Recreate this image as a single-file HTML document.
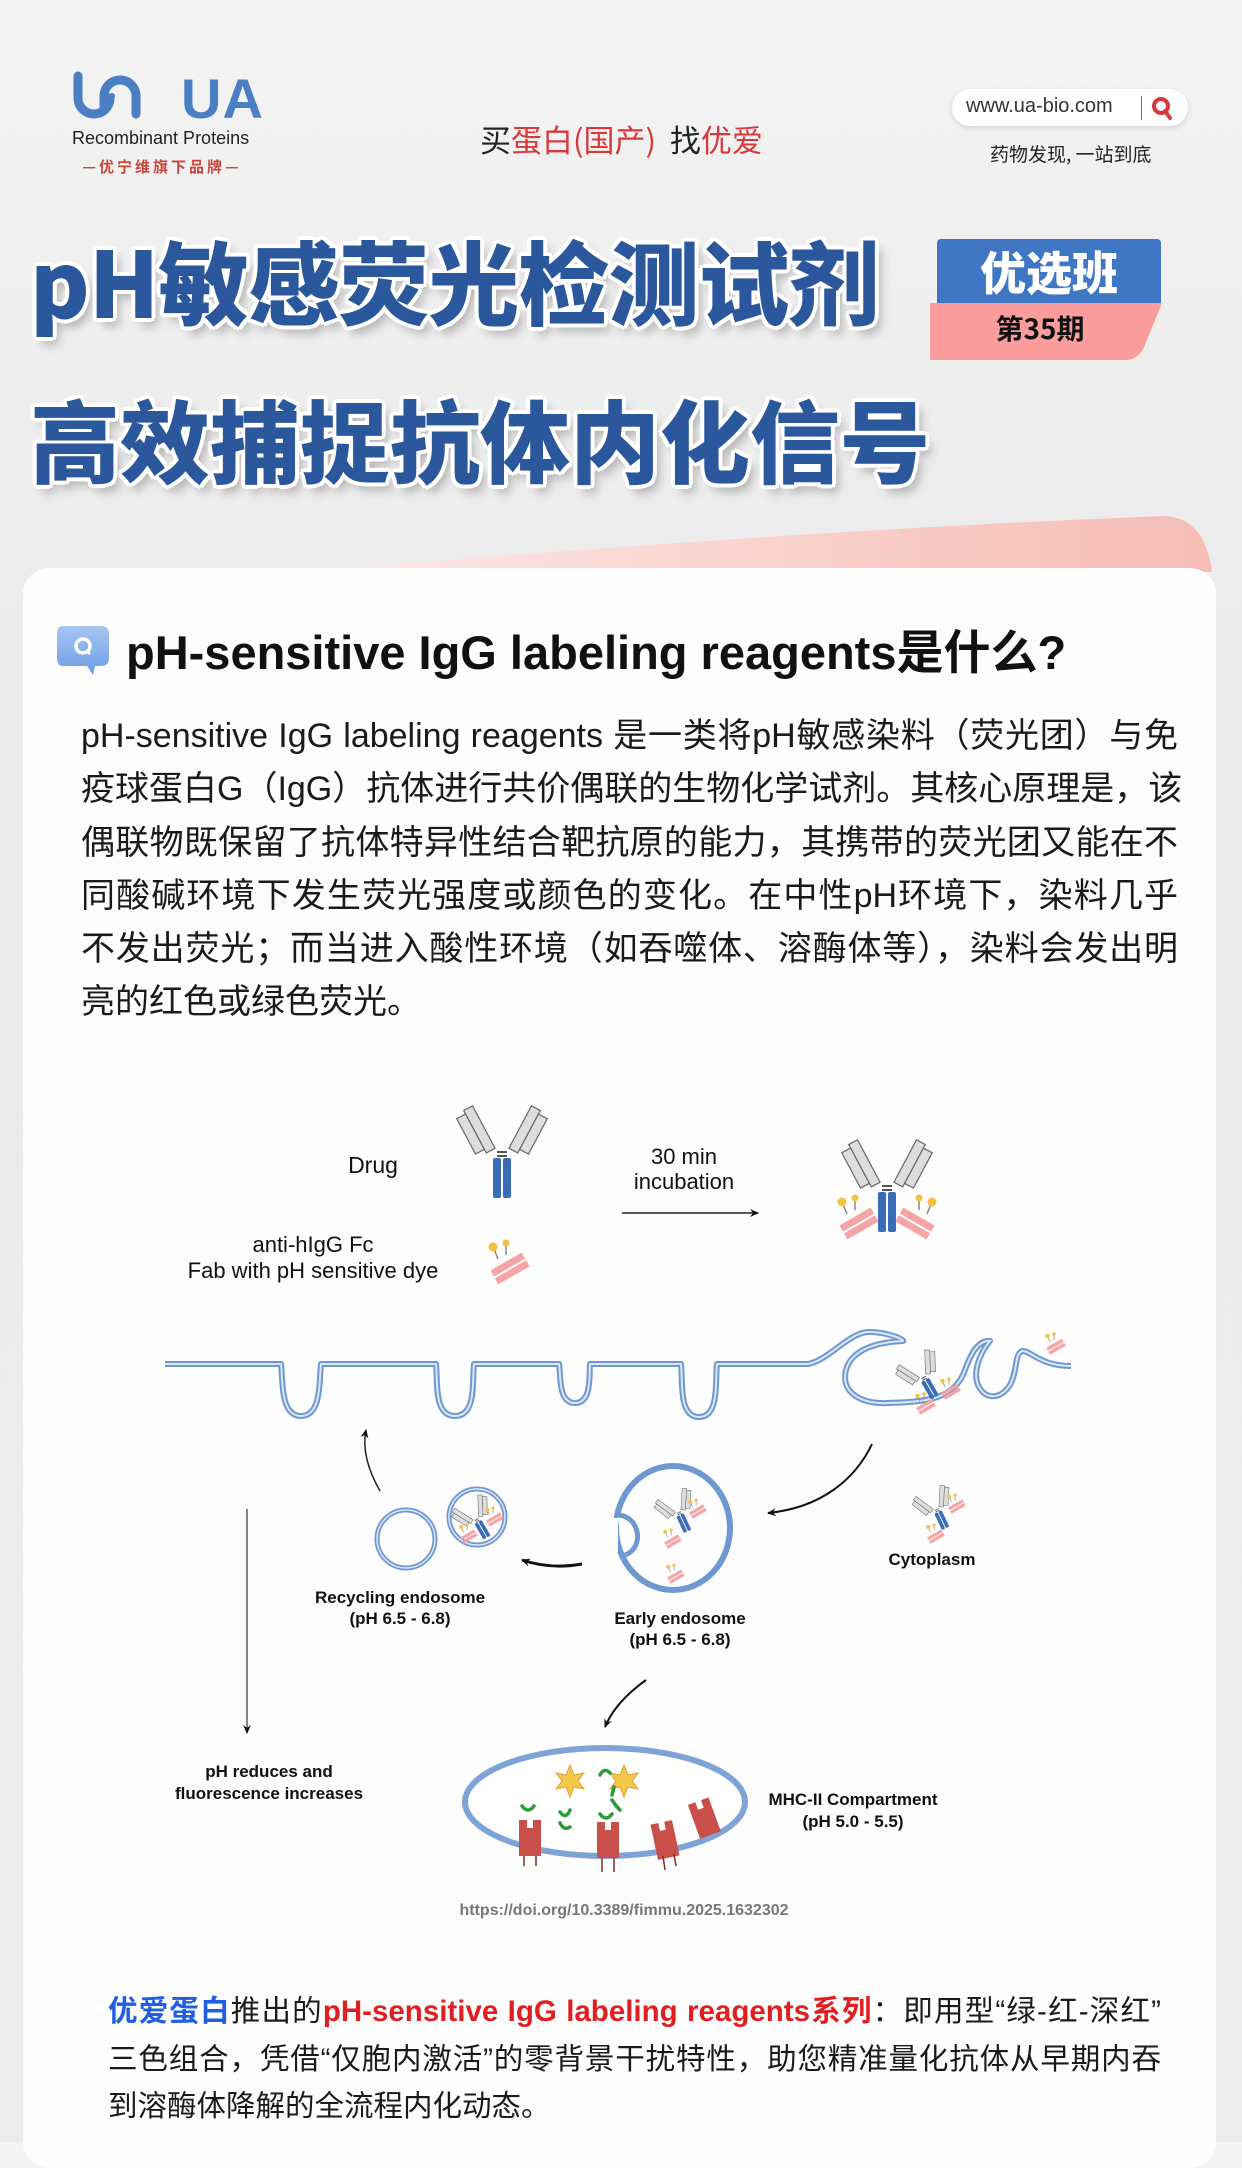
<!DOCTYPE html>
<html><head><meta charset="utf-8">
<style>
*{margin:0;padding:0;box-sizing:border-box}
body{width:1242px;height:2142px;position:relative;overflow:hidden;background:linear-gradient(180deg,#f3f3f3 0%,#ebebeb 30%,#ececec 100%);font-family:"Liberation Sans","Noto Sans CJK SC",sans-serif}
.abs{position:absolute}
.cjk{font-family:"Noto Sans CJK SC","WenQuanYi Zen Hei",sans-serif}
.title{position:absolute;left:30px;font-family:"Noto Sans CJK SC",sans-serif;font-weight:900;color:#2b579c;font-size:90px;line-height:1;white-space:nowrap;
text-shadow:0 0 0 #fff,4px 0 #fff,-4px 0 #fff,0 4px #fff,0 -4px #fff,3px 3px #fff,-3px 3px #fff,3px -3px #fff,-3px -3px #fff,6px 8px 10px rgba(0,0,0,.25)}
.p1 div{height:53.3px;line-height:53.3px;font-size:34px;color:#1a1a1a;white-space:nowrap;text-align:justify;text-align-last:justify}
.p2 div{height:47.5px;line-height:47.5px;font-size:29.5px;color:#1a1a1a;white-space:nowrap;text-align:justify;text-align-last:justify}
svg text{font-family:"Liberation Sans",sans-serif}
</style></head><body>

<svg class="abs" style="left:70px;top:70px" width="80" height="52" viewBox="0 0 80 52">
<path d="M8 6 V28 A16 16 0 0 0 40 28" fill="none" stroke="#4a7fc4" stroke-width="9" stroke-linecap="round"/>
<path d="M34 40 V26 A16 16 0 0 1 66 26 V44" fill="none" stroke="#4a7fc4" stroke-width="9" stroke-linecap="round"/>
<circle cx="42" cy="26" r="3" fill="#4a7fc4"/>
</svg>
<div class="abs" style="left:181px;top:66px;font-size:56px;font-weight:bold;color:#4a7fc4;letter-spacing:1px">UA</div>
<div class="abs" style="left:72px;top:128px;font-size:18px;color:#222">Recombinant Proteins</div>
<div class="abs cjk" style="left:70px;top:156px;width:184px;text-align:center;font-size:15px;color:#c9463c;font-weight:bold;letter-spacing:3px">—优宁维旗下品牌—</div>

<div class="abs cjk" style="left:480px;top:116px;font-size:31px;color:#222;white-space:nowrap">买<span style="color:#d8383a">蛋白(国产)</span>&nbsp; 找<span style="color:#d8383a">优爱</span></div>

<div class="abs" style="left:952px;top:89px;width:236px;height:37px;background:#fff;border-radius:19px;box-shadow:0 2px 6px rgba(0,0,0,.12)"></div>
<div class="abs" style="left:966px;top:95px;font-size:20px;color:#333">www.ua-bio.com</div>
<div class="abs" style="left:1141px;top:96px;width:1px;height:24px;background:#777"></div>
<svg class="abs" style="left:1150px;top:95px" width="24" height="26"><circle cx="11" cy="11" r="7" fill="none" stroke="#d8383a" stroke-width="4"/><line x1="15" y1="16" x2="20" y2="23" stroke="#d8383a" stroke-width="4" stroke-linecap="round"/></svg>
<div class="abs cjk" style="left:990px;top:140px;font-size:19px;color:#222">药物发现, 一站到底</div>

<div class="title" style="top:234px;font-size:91px;letter-spacing:-1px">pH敏感荧光检测试剂</div>
<div class="title" style="top:392px;font-size:90px">高效捕捉抗体内化信号</div>

<div class="abs" style="left:937px;top:239px;width:224px;height:66px;background:#3f77c5;border-radius:4px 4px 0 0"></div>
<div class="abs cjk" style="left:937px;top:240px;width:224px;text-align:center;font-size:46px;font-weight:900;color:#fff;line-height:62px">优选班</div>
<svg class="abs" style="left:930px;top:303px" width="232" height="58"><path d="M0 0 H232 L214 44 Q208 57 196 57 H0 Z" fill="#fa9d9c"/></svg>
<div class="abs cjk" style="left:930px;top:308px;width:220px;text-align:center;font-size:28px;font-weight:bold;color:#111">第35期</div>

<svg class="abs" style="left:0;top:500px" width="1242" height="80"><defs><linearGradient id="pg" x1="0" x2="1"><stop offset="0" stop-color="#fde8e5"/><stop offset="1" stop-color="#f6bcb6"/></linearGradient></defs>
<path d="M330 70 Q800 30 1165 16 Q1205 18 1212 72 Z" fill="url(#pg)"/></svg>

<div class="abs" style="left:23px;top:568px;width:1193px;height:1600px;background:#fdfdfd;border-radius:26px"></div>

<svg class="abs" style="left:55px;top:624px" width="56" height="52"><defs><linearGradient id="bg" x1="0" y1="0" x2="0" y2="1"><stop offset="0" stop-color="#a7c6f2"/><stop offset="1" stop-color="#6d9de6"/></linearGradient></defs>
<path d="M8 2 H46 Q54 2 54 10 V34 Q54 42 46 42 H40 L38 51 L32 42 H8 Q2 42 2 34 V10 Q2 2 8 2Z" fill="url(#bg)"/>
<circle cx="28" cy="22" r="7" fill="none" stroke="#fff" stroke-width="3.5"/><line x1="31" y1="26" x2="35" y2="30" stroke="#fff" stroke-width="3"/></svg>
<div class="abs" style="left:126px;top:614px;font-size:47px;font-weight:bold;color:#111;white-space:nowrap;font-family:'Liberation Sans','Noto Sans CJK SC',sans-serif">pH-sensitive IgG labeling reagents是什么?</div>

<div class="abs p1" style="left:81px;top:710px;width:1097px">
<div>pH-sensitive IgG labeling reagents 是一类将pH敏感染料（荧光团）与免</div>
<div>疫球蛋白G（IgG）抗体进行共价偶联的生物化学试剂。其核心原理是，该</div>
<div>偶联物既保留了抗体特异性结合靶抗原的能力，其携带的荧光团又能在不</div>
<div>同酸碱环境下发生荧光强度或颜色的变化。在中性pH环境下，染料几乎</div>
<div>不发出荧光；而当进入酸性环境（如吞噬体、溶酶体等），染料会发出明</div>
<div style="text-align-last:left">亮的红色或绿色荧光。</div>
</div>

<svg class="abs" style="left:0;top:0" width="1242" height="2142" viewBox="0 0 1242 2142">
<defs>
<marker id="ah" markerWidth="10" markerHeight="10" refX="8" refY="5" orient="auto" markerUnits="userSpaceOnUse"><path d="M0 1 L9 5 L0 9 L3 5Z" fill="#111"/></marker>
<g id="ab">
 <rect x="-9" y="0" width="8" height="40" rx="2" fill="#3a6db8"/>
 <rect x="1" y="0" width="8" height="40" rx="2" fill="#3a6db8"/>
 <line x1="-5" y1="-6" x2="5" y2="-6" stroke="#555" stroke-width="2"/><line x1="-5" y1="-2" x2="5" y2="-2" stroke="#555" stroke-width="2"/>
 <g transform="rotate(-28 -6 -8)"><rect x="-16" y="-58" width="10" height="48" fill="#ddd" stroke="#666" stroke-width="1.2"/><rect x="-26" y="-54" width="10" height="40" fill="#ddd" stroke="#666" stroke-width="1.2"/></g>
 <g transform="rotate(28 6 -8)"><rect x="6" y="-58" width="10" height="48" fill="#ddd" stroke="#666" stroke-width="1.2"/><rect x="16" y="-54" width="10" height="40" fill="#ddd" stroke="#666" stroke-width="1.2"/></g>
</g>
<g id="fab">
 <g transform="rotate(-30)"><rect x="-18" y="-4" width="36" height="7" fill="#f5a5a5"/><rect x="-18" y="5" width="36" height="7" fill="#f5a5a5"/></g>
 <line x1="-10" y1="-6" x2="-14" y2="-16" stroke="#888" stroke-width="1.5"/><circle cx="-15" cy="-18" r="4.5" fill="#f3c340"/>
 <line x1="-2" y1="-10" x2="-2" y2="-20" stroke="#888" stroke-width="1.5"/><circle cx="-2" cy="-22" r="3.5" fill="#f3c340"/>
</g>
<path id="memp" d="M165,1364 H281 C283,1380 280,1416 301,1416 C322,1416 319,1380 321,1364 H436 C438,1380 433,1416 455,1416 C477,1416 472,1380 474,1364 H559 C561,1376 558,1403 575,1403 C592,1403 589,1376 590,1364 H681 C683,1380 678,1417 699,1417 C720,1417 715,1380 717,1364 H808 C830,1360 850,1330 872,1332 C890,1333 905,1340 903,1341 C880,1342 852,1348 846,1370 C840,1395 865,1404 887,1403 C930,1402 955,1398 965,1370 C972,1350 980,1340 990,1341 C982,1350 972,1370 978,1385 C985,1400 1000,1400 1010,1385 C1018,1370 1014,1355 1022,1351 C1030,1350 1040,1366 1071,1366"/>
</defs>

<text x="373" y="1173" font-size="23" text-anchor="middle" fill="#111">Drug</text>
<use href="#ab" x="502" y="1158"/>
<text x="684" y="1164" font-size="22" text-anchor="middle" fill="#111">30 min</text>
<text x="684" y="1189" font-size="22" text-anchor="middle" fill="#111">incubation</text>
<line x1="622" y1="1213" x2="758" y2="1213" stroke="#222" stroke-width="1.5" marker-end="url(#ah)"/>
<use href="#ab" x="887" y="1192"/>
<use href="#fab" x="857" y="1220"/>
<g transform="translate(917 1220) scale(-1 1)"><use href="#fab"/></g>
<text x="313" y="1252" font-size="22" text-anchor="middle" fill="#111">anti-hIgG Fc</text>
<text x="313" y="1278" font-size="22" text-anchor="middle" fill="#111">Fab with pH sensitive dye</text>
<use href="#fab" x="508" y="1265"/>

<use href="#memp" fill="none" stroke="#6f98d0" stroke-width="6" stroke-linejoin="round"/>
<use href="#memp" fill="none" stroke="#dce7f6" stroke-width="2"/>
<g transform="translate(925 1380) rotate(-30) scale(0.5)"><use href="#ab"/></g>
<g transform="translate(950 1390) scale(0.5)"><use href="#fab"/></g>
<g transform="translate(925 1405) scale(0.5)"><use href="#fab"/></g>
<g transform="translate(1055 1345) scale(0.5)"><use href="#fab"/></g>

<path d="M380,1491 C368,1470 362,1450 366,1430" fill="none" stroke="#222" stroke-width="1.5" marker-end="url(#ah)"/>
<circle cx="406" cy="1539" r="29" fill="none" stroke="#6f98d0" stroke-width="5"/>
<circle cx="406" cy="1539" r="29" fill="none" stroke="#dce7f6" stroke-width="1.5"/>
<circle cx="477" cy="1517" r="28" fill="none" stroke="#6f98d0" stroke-width="5"/>
<circle cx="477" cy="1517" r="28" fill="none" stroke="#dce7f6" stroke-width="1.5"/>
<g transform="translate(478 1522) rotate(-30) scale(0.45)"><use href="#ab"/></g>
<g transform="translate(494 1518) scale(0.45)"><use href="#fab"/></g>
<g transform="translate(468 1535) scale(0.45)"><use href="#fab"/></g>
<path d="M582,1564 C560,1568 540,1566 522,1560" fill="none" stroke="#111" stroke-width="3" marker-end="url(#ah)"/>
<text x="400" y="1603" font-size="17" font-weight="bold" text-anchor="middle" fill="#111">Recycling endosome</text>
<text x="400" y="1624" font-size="17" font-weight="bold" text-anchor="middle" fill="#111">(pH 6.5 - 6.8)</text>

<ellipse cx="673" cy="1528" rx="57" ry="62" fill="none" stroke="#6f98d0" stroke-width="6"/>
<path d="M617,1515 C640,1515 645,1548 625,1555" fill="#fff" stroke="#6f98d0" stroke-width="5"/>
<rect x="608" y="1518" width="10" height="34" fill="#fdfdfd"/>
<g transform="translate(680 1515) rotate(-25) scale(0.45)"><use href="#ab"/></g>
<g transform="translate(697 1510) scale(0.45)"><use href="#fab"/></g>
<g transform="translate(672 1540) scale(0.45)"><use href="#fab"/></g>
<g transform="translate(675 1575) scale(0.45)"><use href="#fab"/></g>
<path d="M872,1444 C855,1480 820,1508 768,1513" fill="none" stroke="#111" stroke-width="2" marker-end="url(#ah)"/>
<g transform="translate(938 1512) rotate(-25) scale(0.45)"><use href="#ab"/></g>
<g transform="translate(956 1505) scale(0.45)"><use href="#fab"/></g>
<g transform="translate(935 1535) scale(0.45)"><use href="#fab"/></g>
<text x="932" y="1565" font-size="17" font-weight="bold" text-anchor="middle" fill="#111">Cytoplasm</text>
<text x="680" y="1624" font-size="17" font-weight="bold" text-anchor="middle" fill="#111">Early endosome</text>
<text x="680" y="1645" font-size="17" font-weight="bold" text-anchor="middle" fill="#111">(pH 6.5 - 6.8)</text>

<line x1="247" y1="1509" x2="247" y2="1733" stroke="#333" stroke-width="1.2" marker-end="url(#ah)"/>
<path d="M646,1680 C625,1695 612,1710 605,1727" fill="none" stroke="#111" stroke-width="2" marker-end="url(#ah)"/>
<text x="269" y="1777" font-size="17" font-weight="bold" text-anchor="middle" fill="#111">pH reduces and</text>
<text x="269" y="1799" font-size="17" font-weight="bold" text-anchor="middle" fill="#111">fluorescence increases</text>

<ellipse cx="605" cy="1802" rx="140" ry="54" fill="#fff" stroke="#7ea3d6" stroke-width="6"/>
<g fill="#f5c84a" stroke="#e0a030" stroke-width="1"><polygon points="570,1765 574,1775 584,1773 578,1781 584,1789 574,1787 570,1797 566,1787 556,1789 562,1781 556,1773 566,1775"/><polygon points="624,1765 628,1775 638,1773 632,1781 638,1789 628,1787 624,1797 620,1787 610,1789 616,1781 610,1773 620,1775"/></g>
<g fill="none" stroke="#2a9a3a" stroke-width="3.5" stroke-linecap="round">
<path d="M560,1812 q6,8 10,-2"/><path d="M600,1775 q4,-8 10,-2"/><path d="M612,1800 q4,6 8,10"/><path d="M522,1806 q6,8 12,0"/><path d="M560,1823 q4,8 10,4"/><path d="M600,1814 q6,8 12,0"/><path d="M612,1795 l2,-8"/></g>
<g fill="#c9504a">
<path d="M519,1820 h8 v8 h6 v-8 h8 v36 h-22z"/><path d="M597,1822 h8 v8 h6 v-8 h8 v36 h-22z"/>
<g transform="rotate(-12 665 1840)"><path d="M654,1822 h8 v8 h6 v-8 h8 v36 h-22z"/></g>
<g transform="rotate(-20 705 1820)"><path d="M694,1800 h8 v8 h6 v-8 h8 v36 h-22z"/></g></g>
<g stroke="#8a2a25" stroke-width="1.5"><line x1="524" y1="1856" x2="524" y2="1866"/><line x1="536" y1="1856" x2="536" y2="1866"/><line x1="602" y1="1858" x2="602" y2="1872"/><line x1="614" y1="1858" x2="614" y2="1872"/><line x1="663" y1="1856" x2="665" y2="1870"/><line x1="674" y1="1854" x2="676" y2="1866"/></g>
<text x="853" y="1805" font-size="17" font-weight="bold" text-anchor="middle" fill="#111">MHC-II Compartment</text>
<text x="853" y="1827" font-size="17" font-weight="bold" text-anchor="middle" fill="#111">(pH 5.0 - 5.5)</text>
<text x="624" y="1915" font-size="16" font-weight="bold" text-anchor="middle" fill="#777">https://doi.org/10.3389/fimmu.2025.1632302</text>
</svg>

<div class="abs p2" style="left:108px;top:1988px;width:1053px">
<div style="font-weight:bold"><span style="color:#1f5fe0">优爱蛋白</span><span style="font-weight:normal">推出的</span><span style="color:#e02020">pH-sensitive IgG labeling reagents系列</span><span style="font-weight:normal">：即用型“绿-红-深红”</span></div>
<div>三色组合，凭借“仅胞内激活”的零背景干扰特性，助您精准量化抗体从早期内吞</div>
<div style="text-align-last:left">到溶酶体降解的全流程内化动态。</div>
</div>
</body></html>
